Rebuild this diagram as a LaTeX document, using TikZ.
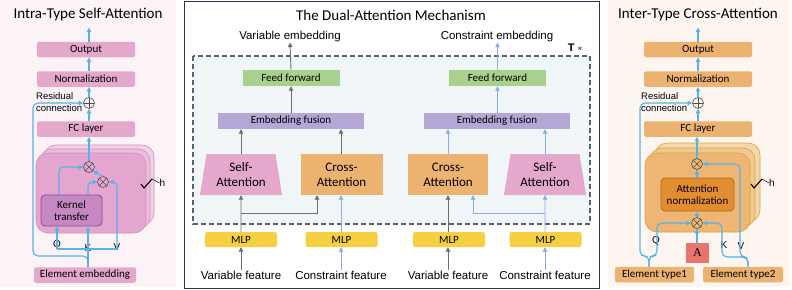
\documentclass[tikz,border=0pt]{standalone}
\usepackage{fontspec}
\setmainfont{Carlito}
\newfontfamily\arialfont{Liberation Sans}
\newfontfamily\timesfont{Liberation Serif}
\usetikzlibrary{arrows.meta, calc, shapes.geometric}

\definecolor{leftbg}{RGB}{252,243,247}
\definecolor{rightbg}{RGB}{253,246,240}
\definecolor{pinkfill}{RGB}{228,168,204}
\definecolor{pinkfront}{RGB}{228,166,206}
\definecolor{pinkmid}{RGB}{236,190,220}
\definecolor{pinkback}{RGB}{242,208,230}
\definecolor{pinkedge}{RGB}{212,140,190}
\definecolor{kernelfill}{RGB}{198,136,194}
\definecolor{kerneledge}{RGB}{140,72,150}
\definecolor{orangefill}{RGB}{236,178,112}
\definecolor{orangefront}{RGB}{237,182,116}
\definecolor{orangemid}{RGB}{242,200,144}
\definecolor{orangeback}{RGB}{246,214,168}
\definecolor{orangeedge}{RGB}{212,165,70}
\definecolor{attnfill}{RGB}{226,142,48}
\definecolor{attnedge}{RGB}{178,108,30}
\definecolor{greenfill}{RGB}{169,209,142}
\definecolor{fusionfill}{RGB}{180,167,214}
\definecolor{mlpfill}{RGB}{245,208,66}
\definecolor{afill}{RGB}{232,116,110}
\definecolor{dashfill}{RGB}{240,246,247}
\definecolor{dashedge}{RGB}{84,98,122}
\definecolor{paneledge}{RGB}{40,54,86}
\definecolor{skyblue}{RGB}{84,180,232}
\definecolor{arrowgray}{RGB}{110,110,110}
\definecolor{arrowblue}{RGB}{140,172,222}

\begin{document}
\begin{tikzpicture}[x=1pt, y=-1pt, >={Triangle[length=4.5pt, width=4.5pt]},
  every node/.style={inner sep=0pt, font=\fontsize{11}{12}\selectfont},
  sky/.style={draw=skyblue, line width=1.1pt},
  grayline/.style={draw=arrowgray, line width=0.9pt},
  blueline/.style={draw=arrowblue, line width=0.9pt},
  pinkbox/.style={fill=pinkfill, rounded corners=2pt, minimum width=98pt, minimum height=15.5pt},
  orangebox/.style={fill=orangefill, rounded corners=2pt, minimum width=108pt, minimum height=15.5pt},
  multnode/.style={circle, draw=black!70, line width=0.6pt, minimum size=11pt,
    path picture={\draw[black!70, line width=0.6pt] (path picture bounding box.north west) -- (path picture bounding box.south east)
      (path picture bounding box.north east) -- (path picture bounding box.south west);}},
  addnode/.style={circle, draw=black!70, line width=0.6pt, minimum size=11pt,
    path picture={\draw[black!70, line width=0.6pt] (path picture bounding box.north) -- (path picture bounding box.south)
      (path picture bounding box.west) -- (path picture bounding box.east);}},
  qkv/.style={font=\arialfont\fontsize{10}{10}\selectfont},
  reslabel/.style={font=\arialfont\fontsize{9.5}{11}\selectfont, align=left, anchor=west},
  paneltitle/.style={font=\fontsize{15}{16}\selectfont},
  extlabel/.style={font=\arialfont\fontsize{11.5}{12}\selectfont},
  midbox/.style={minimum height=16pt},
  mlpbox/.style={fill=mlpfill, rounded corners=2pt, minimum width=72pt, minimum height=15pt},
  selfattn/.style={trapezium, trapezium left angle=75, trapezium right angle=75, trapezium stretches body,
    minimum width=82pt, minimum height=41pt, fill=pinkfill, align=center, font=\fontsize{13}{15}\selectfont},
  crossattn/.style={fill=orangefill, minimum width=82pt, minimum height=41pt, align=center, font=\fontsize{13}{15}\selectfont}]
  \useasboundingbox (0,0) rectangle (792,289);

  % panels
  \fill[leftbg] (0,0) rectangle (176,287);
  \fill[rightbg] (608,0) rectangle (790,287);
  \draw[paneledge, line width=0.9pt, fill=white] (184.5,1) rectangle (599,288);
  \draw[dashedge, line width=1.1pt, dash pattern=on 5pt off 3pt, fill=dashfill] (193,56) rectangle (590,224);

  % left: intra-type self-attention
  \node[paneltitle] (ltitle) at (88,15) {Intra-Type Self-Attention};
  \foreach \d/\col in {8/pinkback, 4/pinkmid, 0/pinkfront}
    \draw[draw=pinkedge, fill=\col, line width=0.6pt, rounded corners=12pt] (36+\d,153-\d) rectangle (146+\d,233-\d);
  \node[pinkbox] (lout) at (86,49.5) {Output};
  \node[pinkbox] (lnorm) at (86,79) {Normalization};
  \node[addnode] (ladd) at (89,103) {};
  \node[pinkbox] (lfc) at (86,129) {FC layer};
  \node[fill=kernelfill, draw=kerneledge, line width=0.8pt, rounded corners=4pt, minimum width=61pt, minimum height=31pt, align=center] (lkt) at (71.5,210.5) {Kernel\\transfer};
  \node[multnode] (lmulA) at (89,167) {};
  \node[multnode] (lmulB) at (103,182) {};
  \node[pinkbox, minimum width=102pt] (lemb) at (85,275) {Element embedding};
  \node[reslabel] (lres) at (36,102.5) {Residual\\[1pt]connection};
  \coordinate (lQ) at (57,249);
  \coordinate (lK) at (88,249);
  \coordinate (lV) at (117,249);
  \node[qkv] (lqlab) at (57,245) {Q};
  \node[qkv] (lklab) at (88,248) {K};
  \node[qkv] (lvlab) at (117,247) {V};
  \draw[line width=1.1pt] (141,184) -- (144,188) -- (152,179);
  \node[qkv] (lh) at (162.5,183) {h};
  \draw[line width=0.5pt] (152,179) -- (lh.west);

  \draw[sky, ->] (lemb.north -| lK) -- (lkt.south -| lK);
  \draw[sky, ->, rounded corners=5pt] (lemb.north -| lK) |- (33,256) |- (ladd.west);
  \draw[sky] (lQ) -- (lV);
  \draw[sky, ->] (lQ) -- (lkt.south -| lQ);
  \draw[sky, ->, rounded corners=4pt] (lV) |- (lmulB.east);
  \draw[sky, ->, rounded corners=4pt] (lkt.north -| 59,0) |- (lmulA.west);
  \draw[sky, ->, rounded corners=4pt] (lkt.north -| lK) |- (lmulB.west);
  \draw[sky, ->] (lmulB.north) -- (lmulA.south east);
  \draw[sky, ->] (lmulA.north) -- (lfc.south -| lmulA);
  \draw[sky, ->] (lfc.north -| ladd) -- (ladd.south);
  \draw[sky, ->] (ladd.north) -- (lnorm.south -| ladd);
  \draw[sky, ->] (lnorm.north -| ladd) -- (lout.south -| ladd);
  \draw[sky, ->] (lout.north -| ladd) -- ++(0,-14);

  % middle: dual-attention mechanism
  \node[paneltitle] (mtitle) at (391,15) {The Dual-Attention Mechanism};
  \node[extlabel] (varemb) at (290,37) {Variable embedding};
  \node[extlabel] (conemb) at (497,37) {Constraint embedding};
  \node[font=\arialfont\fontsize{11}{12}\selectfont] (tloop) at (575,48) {\textbf{T} {\fontsize{8}{8}\selectfont×}};
  \node[midbox, fill=greenfill, minimum width=97pt] (ff1) at (291,78) {Feed forward};
  \node[midbox, fill=greenfill, minimum width=97pt] (ff2) at (497.5,78) {Feed forward};
  \node[midbox, fill=fusionfill, minimum width=146pt] (ef1) at (291,121) {Embedding fusion};
  \node[midbox, fill=fusionfill, minimum width=146pt] (ef2) at (497,121) {Embedding fusion};
  \node[selfattn] (sa1) at (241,174.5) {Self-\\Attention};
  \node[crossattn] (ca1) at (341.5,174.5) {Cross-\\Attention};
  \node[crossattn, minimum width=80pt] (ca2) at (448,174.5) {Cross-\\Attention};
  \node[selfattn] (sa2) at (545,174.5) {Self-\\Attention};
  \node[mlpbox] (mlp1) at (241,239.5) {MLP};
  \node[mlpbox] (mlp2) at (341.5,239.5) {MLP};
  \node[mlpbox] (mlp3) at (449,239.5) {MLP};
  \node[mlpbox] (mlp4) at (545.5,239.5) {MLP};
  \node[extlabel] (vf1) at (241,275) {Variable feature};
  \node[extlabel] (cf1) at (341,275) {Constraint feature};
  \node[extlabel] (vf2) at (448,275) {Variable feature};
  \node[extlabel] (cf2) at (545,275) {Constraint feature};

  \draw[grayline, ->] (vf1.north) ++(0,-1) -- (mlp1.south);
  \draw[grayline, ->] (mlp1.north) -- (sa1.south);
  \draw[grayline, ->] (sa1.south |- 0,213) -| ([xshift=-24.5pt]ca1.south);
  \draw[grayline, ->] (sa1.north) -- (ef1.south -| sa1.north);
  \draw[grayline, ->] (ca1.north -| 341,0) -- (ef1.south -| 341,0);
  \draw[grayline, ->] (ef1.north) -- (ff1.south);
  \draw[grayline, ->] (ff1.north) -- (varemb.south);
  \draw[blueline, ->] (cf1.north -| 341,0) ++(0,-1) -- (mlp2.south -| 341,0);
  \draw[blueline, ->] (mlp2.north -| 341,0) -- (ca1.south -| 341,0);

  \draw[grayline, ->] (vf2.north) ++(0,-1) -- (mlp3.south -| vf2);
  \draw[grayline, ->] (mlp3.north -| vf2) -- (ca2.south);
  \draw[blueline, ->] (cf2.north) ++(0,-1) -- (mlp4.south -| cf2);
  \draw[blueline, ->] (mlp4.north -| cf2) -- (sa2.south);
  \draw[blueline, ->] (sa2.south |- 0,213) -| ([xshift=25pt]ca2.south);
  \draw[blueline, ->] (ca2.north) -- (ef2.south -| ca2.north);
  \draw[blueline, ->] (sa2.north) -- (ef2.south -| sa2.north);
  \draw[blueline, ->] (ef2.north -| ff2) -- (ff2.south);
  \draw[blueline, ->] (ff2.north) -- (conemb.south -| ff2);

  % right: inter-type cross-attention
  \node[paneltitle] (rtitle) at (698,15) {Inter-Type Cross-Attention};
  \foreach \d/\col in {10/orangeback, 5/orangemid, 0/orangefront}
    \draw[draw=orangeedge, fill=\col, line width=0.6pt, rounded corners=12pt] (645+\d,153-\d) rectangle (750+\d,232-\d);
  \node[orangebox] (rout) at (698,49.5) {Output};
  \node[orangebox] (rnorm) at (698,79) {Normalization};
  \node[addnode] (radd) at (698,103) {};
  \node[orangebox] (rfc) at (698,129) {FC layer};
  \node[fill=attnfill, draw=attnedge, line width=0.8pt, rounded corners=4pt, minimum width=73pt, minimum height=33pt, align=center] (ratn) at (697.5,194.5) {Attention\\normalization};
  \node[multnode] (rmulA) at (697,164) {};
  \node[multnode] (rmulB) at (697,223) {};
  \node[fill=afill, minimum width=23pt, minimum height=20pt, font=\timesfont\fontsize{12}{12}\selectfont] (rA) at (697.5,253) {A};
  \node[orangebox, minimum width=79pt] (ret1) at (654.5,274.5) {Element type1};
  \node[orangebox, minimum width=80pt] (ret2) at (743,274.5) {Element type2};
  \node[reslabel] (rres) at (641,102.5) {Residual\\[1pt]connection};
  \node[qkv] (rqlab) at (656,241) {Q};
  \node[qkv] (rklab) at (724,245) {K};
  \node[qkv] (rvlab) at (741,246) {V};
  \draw[line width=1.1pt] (751,184) -- (754,188) -- (762,179);
  \node[qkv] (rh) at (772,183) {h};
  \draw[line width=0.5pt] (762,179) -- (rh.west);

  \draw[sky, ->, rounded corners=5pt] (ret1.north -| 649,0) |- (640,256) |- (radd.west);
  \draw[sky, ->, rounded corners=5pt] (ret1.north -| 649,0) |- (657,256) |- (rmulB.west);
  \draw[sky, ->, rounded corners=5pt] (ret2.north -| 748,0) |- (722,257) |- (rmulB.east);
  \draw[sky, ->, rounded corners=5pt] (ret2.north -| 748,0) |- (740,257) |- (rmulA.east);
  \draw[sky, ->] (rA.north -| rmulB) -- (rmulB.south);
  \draw[sky, ->] (rmulB.north) -- (ratn.south -| rmulB);
  \draw[sky, ->] (ratn.north -| rmulA) -- (rmulA.south);
  \draw[sky, ->] (rmulA.north) -- (rfc.south -| rmulA);
  \draw[sky, ->] (rfc.north) -- (radd.south);
  \draw[sky, ->] (radd.north) -- (rnorm.south);
  \draw[sky, ->] (rnorm.north) -- (rout.south);
  \draw[sky, ->] (rout.north) -- ++(0,-14);
\end{tikzpicture}
\end{document}
